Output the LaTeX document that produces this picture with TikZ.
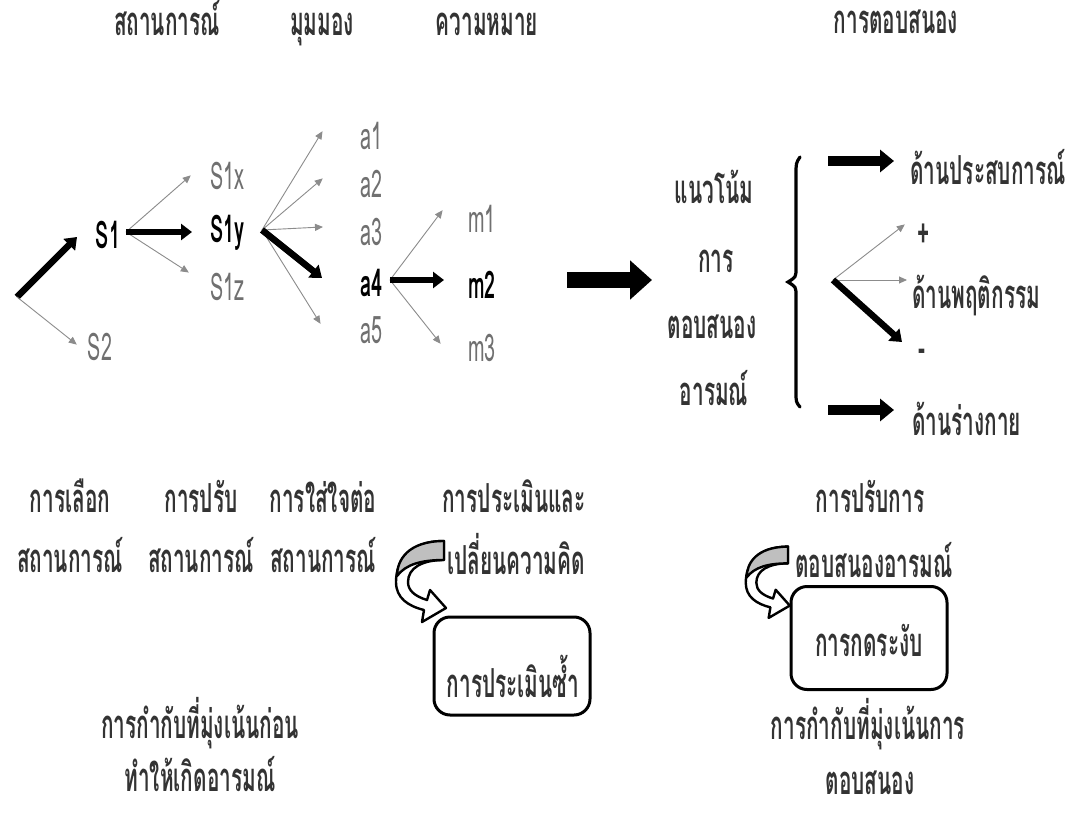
\documentclass[tikz,border=0pt]{standalone}
\usepackage{fontspec}
\newfontfamily\thaif[Script=Thai,FakeStretch=0.52]{Loma}
\usetikzlibrary{arrows.meta}
\definecolor{lbgray}{HTML}{707070}
\definecolor{lngray}{HTML}{8C8C8C}
\begin{document}
\begin{tikzpicture}[x=1pt,y=-1pt,
  txt/.style={font=\thaif\bfseries\fontsize{40}{42}\selectfont, inner sep=0pt, text=black!80, text height=22pt, text depth=6pt, yshift=-8pt},
  lat/.style={font=\thaif\fontsize{38}{40}\selectfont, inner sep=0pt, text=lbgray},
  latb/.style={font=\thaif\bfseries\fontsize{38}{40}\selectfont, inner sep=0pt, text=black},
  thinar/.style={draw=lngray, line width=0.9pt, -{Triangle[length=8pt,width=7pt]}, shorten >=-1pt},
  thickar/.style={draw=black, line width=6.5pt, -{Triangle[length=11pt,width=16pt]}},
  medar/.style={draw=black, line width=10pt, -{Triangle[length=14pt,width=22pt]}},
  bigar/.style={draw=black, line width=16pt, -{Triangle[length=22pt,width=38pt]}},
  roundbox/.style={draw=black, line width=3pt, rounded corners=16pt, fill=white},
  curvarrow/.pic={
    \filldraw[fill=white, line width=2.4pt, line join=round]
      (50,3) .. controls (14,3) and (2,24) .. (2,44)
      .. controls (2,60) and (14,68) .. (30,72) -- (28,84) -- (52,70) -- (36,52) -- (33,62)
      .. controls (20,58) and (14,52) .. (14,44)
      .. controls (14,30) and (28,22) .. (50,22) -- cycle;
    \filldraw[fill=gray!50, line width=2.4pt, line join=round]
      (50,3) .. controls (14,3) and (3,22) .. (3,38)
      .. controls (12,26) and (28,22) .. (50,22) -- cycle;
  }]
\useasboundingbox[fill=white] (0,0) rectangle (1065,813);

% titles
\node[txt] (t1) at (167,20) {สถานการณ์};
\node[txt] (t2) at (322,20) {มุมมอง};
\node[txt] (t3) at (487,20) {ความหมาย};
\node[txt] (t4) at (896,18) {การตอบสนอง};

% situation tree
\coordinate (o0) at (17,297);
\node[latb] (s1) at (108,235) {S1};
\node[lat] (s2) at (100,347) {S2};
\coordinate (s2e) at (76,344);
\coordinate (s1e) at (77,237);
\draw[thickar] (o0) -- (s1e);
\draw[thinar] (o0) -- (s2e);

\coordinate (o1) at (126,232);
\node[lat, anchor=west] (s1x) at (210,176) {S1x};
\node[latb, anchor=west] (s1y) at (210,233) {S1y};
\node[lat, anchor=west] (s1z) at (210,287) {S1z};
\coordinate (s1xe) at (190,176);
\coordinate (s1ye) at (192,232);
\coordinate (s1ze) at (188,272);
\draw[thinar] (o1) -- (s1xe);
\draw[thinar] (o1) -- (s1ze);
\draw[thickar] (o1) -- (s1ye);

\coordinate (o2) at (262,230);
\node[lat, anchor=west] (a1) at (360,136) {a1};
\node[lat, anchor=west] (a2) at (360,184) {a2};
\node[lat, anchor=west] (a3) at (360,232) {a3};
\node[latb, anchor=west] (a4) at (360,283) {a4};
\node[lat, anchor=west] (a5) at (360,330) {a5};
\coordinate (a1e) at (322,132);
\coordinate (a2e) at (322,179);
\coordinate (a3e) at (322,227);
\coordinate (a4e) at (322,278);
\coordinate (a5e) at (320,323);
\draw[thinar] (o2) -- (a1e);
\draw[thinar] (o2) -- (a2e);
\draw[thinar] (o2) -- (a3e);
\draw[thinar] (o2) -- (a5e);
\draw[thickar] (o2) -- (a4e);

\coordinate (o3) at (390,280);
\node[lat, anchor=west] (m1) at (468,219) {m1};
\node[latb, anchor=west] (m2) at (468,285) {m2};
\node[lat, anchor=west] (m3) at (468,348) {m3};
\coordinate (m1e) at (442,211);
\coordinate (m2e) at (444,280);
\coordinate (m3e) at (440,343);
\draw[thinar] (o3) -- (m1e);
\draw[thinar] (o3) -- (m3e);
\draw[thickar] (o3) -- (m2e);

% big arrow
\coordinate (b0) at (567,280);
\coordinate (b1) at (652,280);
\draw[bigar] (b0) -- (b1);

% tendency text
\node[txt] (n1) at (714,188) {แนวโน้ม};
\node[txt] (n2) at (716,256) {การ};
\node[txt] (n3) at (712,322) {ตอบสนอง};
\node[txt] (n4) at (714,389) {อารมณ์};

% brace
\draw[line width=3.2pt, line cap=round] (800,157) .. controls (796,163) .. (796,175) -- (796,268)
  .. controls (796,277) .. (788,282) .. controls (796,287) .. (796,296) -- (796,392)
  .. controls (796,402) .. (800,407);

% response branches
\node[txt, anchor=west] (r1) at (910,169) {ด้านประสบการณ์};
\coordinate (r1s) at (828,161);
\coordinate (r1e) at (894,161);
\draw[medar] (r1s) -- (r1e);

\coordinate (o4) at (833,280);
\node[txt, anchor=west] (plus) at (917,231) {+};
\node[txt, anchor=west] (r2) at (912,292) {ด้านพฤติกรรม};
\node[txt, anchor=west] (minus) at (918,345) {-};
\coordinate (pe) at (904,225);
\coordinate (r2e) at (906,280);
\coordinate (me) at (902,342);
\draw[thinar] (o4) -- (pe);
\draw[thinar] (o4) -- (r2e);
\draw[thickar] (o4) -- (me);

\node[txt, anchor=west] (r3) at (912,419) {ด้านร่างกาย};
\coordinate (r3s) at (828,410);
\coordinate (r3e) at (894,410);
\draw[medar] (r3s) -- (r3e);

% bottom labels
\node[txt] (l1a) at (70,496) {การเลือก};
\node[txt] (l1b) at (70,556) {สถานการณ์};
\node[txt] (l2a) at (201,496) {การปรับ};
\node[txt] (l2b) at (201,556) {สถานการณ์};
\node[txt] (l3a) at (323,496) {การใส่ใจต่อ};
\node[txt] (l3b) at (323,556) {สถานการณ์};
\node[txt] (l4a) at (514,496) {การประเมินและ};
\node[txt] (l4b) at (516,558) {เปลี่ยนความคิด};

\pic at (394,538) {curvarrow};
\node[roundbox, minimum width=156pt, minimum height=98pt] (box1) at (512,666) {};
\node[txt] (box1t) at (513,681) {การประเมินซ้ำ};

\node[txt] (l5a) at (200,722) {การกำกับที่มุ่งเน้นก่อน};
\node[txt] (l5b) at (200,775) {ทำให้เกิดอารมณ์};

\node[txt] (l6a) at (870,496) {การปรับการ};
\node[txt] (l6b) at (874,561) {ตอบสนองอารมณ์};
\pic[scale=0.88] at (744,544) {curvarrow};
\node[roundbox, minimum width=156pt, minimum height=103pt] (box2) at (869,638) {};
\node[txt] (box2t) at (869,640) {การกดระงับ};
\node[txt] (l7a) at (868,723) {การกำกับที่มุ่งเน้นการ};
\node[txt] (l7b) at (870,778) {ตอบสนอง};
\end{tikzpicture}
\end{document}
